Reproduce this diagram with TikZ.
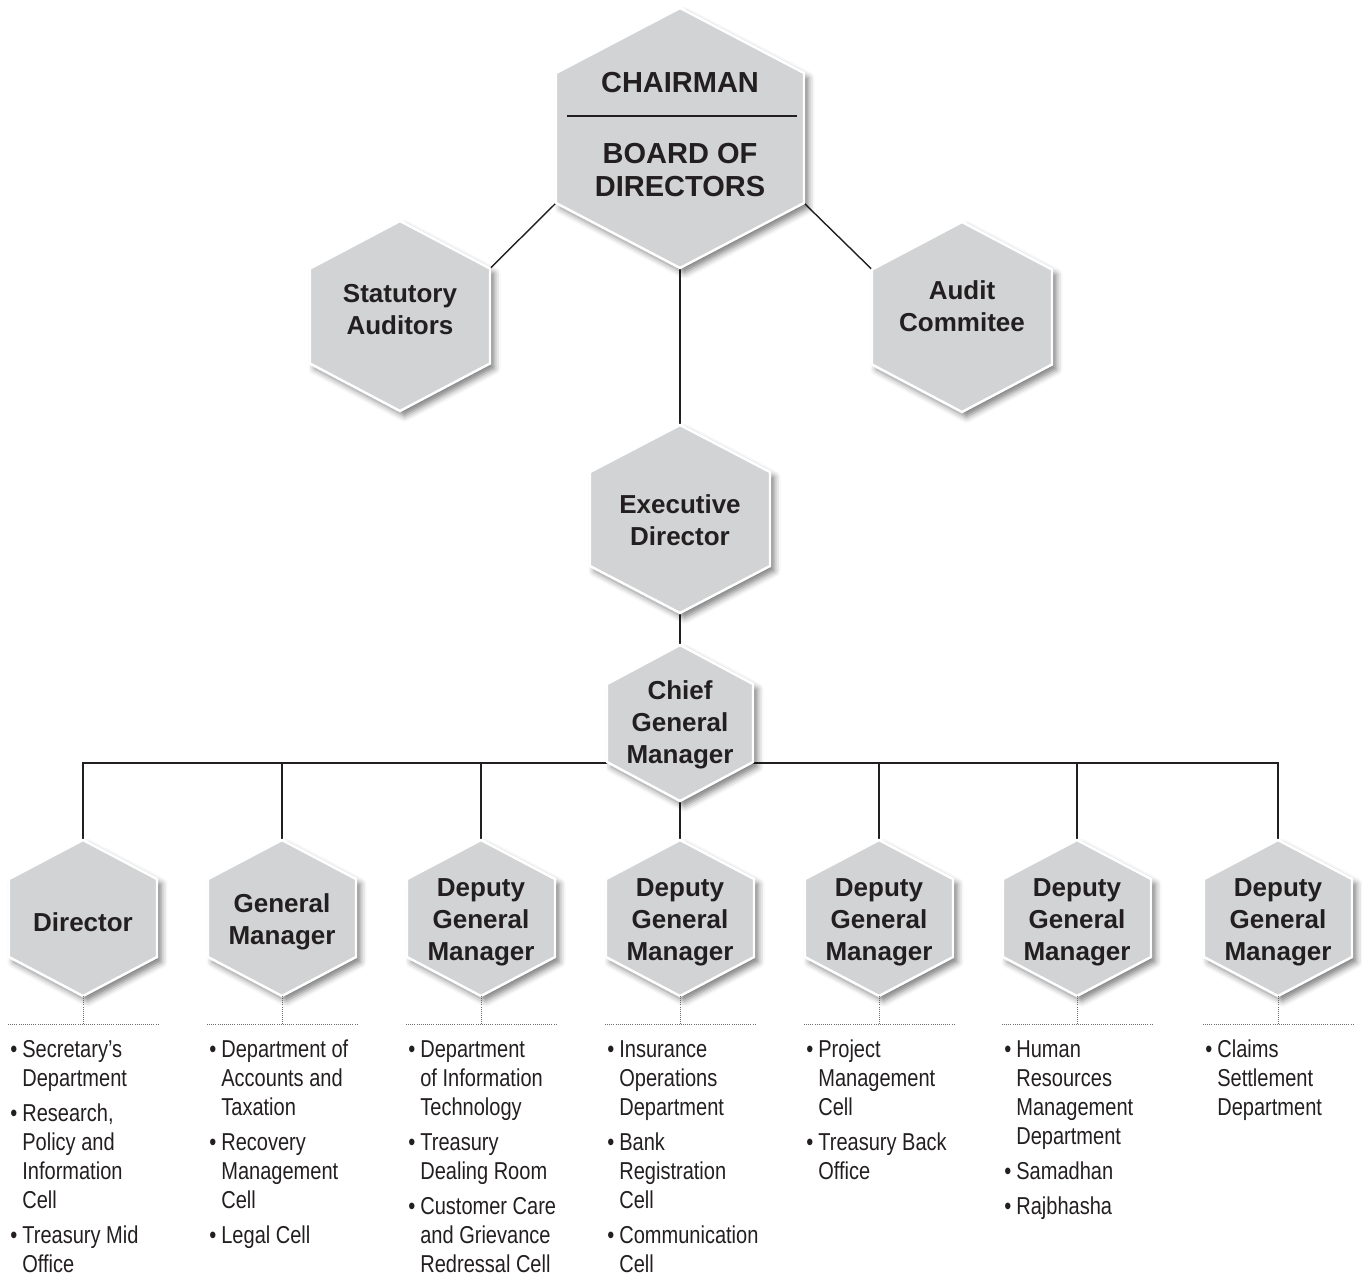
\documentclass[tikz,border=0pt]{standalone}
\usepackage{fontspec}
\setmainfont{Liberation Sans}
\newfontfamily\narrowfont[FakeStretch=0.82]{Liberation Sans}
\usetikzlibrary{shadows.blur, backgrounds}
\definecolor{hexgray}{RGB}{209, 211, 212}
\definecolor{inkdark}{RGB}{35, 31, 32}
\definecolor{dotgray}{RGB}{110, 110, 110}

% hexagon with named corners: name, x, y, half width, half height
\newcommand{\hexa}[5]{%
  \path[hexbox] ({#2},{#3-#5}) coordinate (#1-t)
    -- ({#2+#4},{#3-#5/2}) coordinate (#1-ur)
    -- ({#2+#4},{#3+#5/2}) coordinate (#1-lr)
    -- ({#2},{#3+#5}) coordinate (#1-b)
    -- ({#2-#4},{#3+#5/2}) coordinate (#1-ll)
    -- ({#2-#4},{#3-#5/2}) coordinate (#1-ul) -- cycle;
}
\newcommand{\bul}{\rule{0pt}{12pt}\makebox[0.24cm][l]{\textbullet}}
\newcommand{\ind}{\makebox[0.24cm]{}}

\begin{document}
\begin{tikzpicture}[x=0.02cm, y=-0.02cm,
  hexbox/.style={fill=hexgray, draw=white, line width=1.4pt,
    blur shadow={shadow xshift=0.09cm, shadow yshift=-0.1cm, shadow blur radius=0.12cm, shadow opacity=50}},
  hextxt/.style={text=inkdark, align=center, inner sep=0pt, font=\bfseries\fontsize{14.8pt}{18.2pt}\selectfont},
  toptxt/.style={hextxt, font=\bfseries\fontsize{16.5pt}{18.8pt}\selectfont},
  conn/.style={draw=inkdark, line width=0.8pt},
  dots/.style={draw=dotgray, line width=0.5pt, dash pattern=on 0.5pt off 0.7pt},
  dutylist/.style={anchor=north west, align=left, inner sep=0pt, text=inkdark,
    font=\narrowfont\fontsize{13.9pt}{16.5pt}\selectfont}
]
  \useasboundingbox (0,0) rectangle (1362,1276);

  \hexa{bod}{680}{138}{124}{130}
  \hexa{sa}{400}{316}{90}{95}
  \hexa{ac}{962}{317}{90}{95}
  \hexa{ed}{680}{519}{90}{94}
  \hexa{cgm}{680}{723}{73}{78}
  \foreach \n/\x in {dir/83, gm/282, dgma/481, dgmb/680, dgmc/879, dgmd/1077, dgme/1278}
    {\hexa{\n}{\x}{918}{74}{78}}

  \node[toptxt] (chair) at (680,83) {CHAIRMAN};
  \draw[inkdark, line width=1.2pt] (567,116) -- (797,116);
  \node[toptxt] (board) at (680,170) {BOARD OF\\DIRECTORS};
  \node[hextxt] (sat) at (400,310) {Statutory\\Auditors};
  \node[hextxt] (aud) at (962,306) {Audit\\Commitee};
  \node[hextxt] (exe) at (680,520) {Executive\\Director};
  \node[hextxt] (chief) at (680,725) {Chief\\General\\Manager};
  \foreach \n/\x/\t in {dir/83/Director, gm/282/{General\\Manager},
      dgma/481/{Deputy\\General\\Manager}, dgmb/680/{Deputy\\General\\Manager},
      dgmc/879/{Deputy\\General\\Manager}, dgmd/1077/{Deputy\\General\\Manager},
      dgme/1278/{Deputy\\General\\Manager}}
    \node[hextxt] (\n-txt) at (\x,922) {\t};

  \begin{scope}[on background layer]
    \draw[conn] (bod-ll) -- (sa-ur);
    \draw[conn] (bod-lr) -- (ac-ul);
    \draw[conn] (bod-b) -- (ed-t);
    \draw[conn] (ed-b) -- (cgm-t);
    \coordinate (bus) at (680,763);
    \draw[conn] (dir-t) |- (bus) -| (dgme-t);
    \foreach \n in {gm, dgma, dgmc, dgmd}
      \draw[conn] (\n-t) -- (\n-t |- bus);
    \draw[conn] (cgm-b) -- (dgmb-t);
  \end{scope}

  \foreach \n in {dir, gm, dgma, dgmb, dgmc, dgmd, dgme} {
    \draw[dots] (\n-b) -- ++(0,28);
    \draw[dots] (\n-b) ++(-75,28) -- ++(150,0);
  }

  \node[dutylist] (dirlist) at (10,1036) {\bul Secretary’s\\ \ind Department\\[0.12cm]
    \bul Research,\\ \ind Policy and\\ \ind Information\\ \ind Cell\\[0.12cm]
    \bul Treasury Mid\\ \ind Office};
  \node[dutylist] (gmlist) at (209,1036) {\bul Department of\\ \ind Accounts and\\ \ind Taxation\\[0.12cm]
    \bul Recovery\\ \ind Management\\ \ind Cell\\[0.12cm]
    \bul Legal Cell};
  \node[dutylist] (dgmalist) at (408,1036) {\bul Department\\ \ind of Information\\ \ind Technology\\[0.12cm]
    \bul Treasury\\ \ind Dealing Room\\[0.12cm]
    \bul Customer Care\\ \ind and Grievance\\ \ind Redressal Cell};
  \node[dutylist] (dgmblist) at (607,1036) {\bul Insurance\\ \ind Operations\\ \ind Department\\[0.12cm]
    \bul Bank\\ \ind Registration\\ \ind Cell\\[0.12cm]
    \bul Communication\\ \ind Cell};
  \node[dutylist] (dgmclist) at (806,1036) {\bul Project\\ \ind Management\\ \ind Cell\\[0.12cm]
    \bul Treasury Back\\ \ind Office};
  \node[dutylist] (dgmdlist) at (1004,1036) {\bul Human\\ \ind Resources\\ \ind Management\\ \ind Department\\[0.12cm]
    \bul Samadhan\\[0.12cm]
    \bul Rajbhasha};
  \node[dutylist] (dgmelist) at (1205,1036) {\bul Claims\\ \ind Settlement\\ \ind Department};
\end{tikzpicture}
\end{document}
